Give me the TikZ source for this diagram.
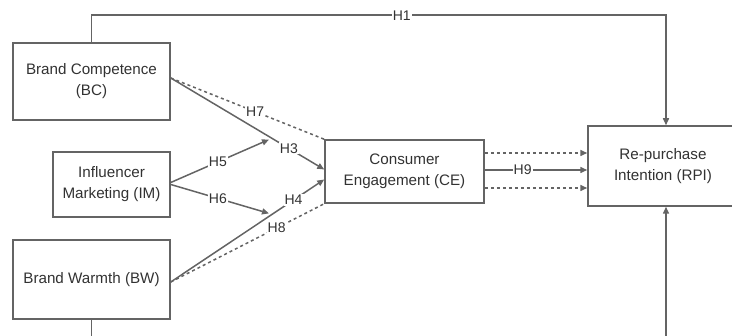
\documentclass[tikz,border=0pt]{standalone}
\usepackage{fontspec}
\setmainfont{Liberation Sans}
\usetikzlibrary{arrows.meta,calc,positioning}
\definecolor{linegray}{RGB}{100,100,100}
\definecolor{textgray}{RGB}{50,50,50}

\begin{document}
\begin{tikzpicture}[x=1pt,y=-1pt,>={Triangle[length=7pt,width=6pt]},
  box/.style={draw=linegray,line width=1.5pt,align=center,inner sep=0pt,
    text=textgray,font=\fontsize{15.2}{21}\selectfont},
  hyp/.style={draw=linegray,line width=1.5pt},
  med/.style={hyp,dash pattern=on 3pt off 3pt},
  lbl/.style={fill=white,inner sep=1pt,text=textgray,font=\fontsize{14}{15}\selectfont}]
\clip (0,0) rectangle (732,336);
% ---------------- constructs ----------------
\node[box,minimum width=157,minimum height=77] (bc) at (91.5,81.5) {Brand Competence\\(BC)};
\node[box,minimum width=117,minimum height=65] (im) at (111.5,184.5) {Influencer\\Marketing (IM)};
\node[box,minimum width=157,minimum height=79] (bw) at (91.5,279.5) {Brand Warmth (BW)};
\node[box,minimum width=159,minimum height=63] (ce) at (404.5,171.5) {Consumer\\Engagement (CE)};
\node[box,minimum width=150,minimum height=80] (rpi) at (663,166) {Re-purchase\\Intention (RPI)};
% ---------------- direct paths to RPI ----------------
\draw[hyp,->] (bc.north) -- ++(0,-27) -| ([xshift=3pt]rpi.north)
   node[pos=0.27,lbl]{H1};
\draw[hyp,->] (bw.south) -- ++(0,40) -| ([xshift=3pt]rpi.south);
% ---------------- paths to CE ----------------
\coordinate (bcout) at ([yshift=3.5pt]bc.east);
\coordinate (bwout) at ([yshift=-2.5pt]bw.east);
\coordinate (cein3) at ([yshift=2pt]ce.west);
\coordinate (cein4) at ([yshift=-8pt]ce.west);
\draw[hyp,->] (bcout) -- (cein3) node[pos=0.77,lbl]{H3};
\draw[hyp,->] (bwout) -- (cein4) node[pos=0.8,lbl]{H4};
\coordinate (m1) at ($(bcout)!0.64!(cein3)$);
\coordinate (m2) at ($(bwout)!0.64!(cein4)$);
% moderation
\draw[hyp,->] ([yshift=2pt]im.east) -- ([yshift=-3pt]m1) node[pos=0.48,lbl]{H5};
\draw[hyp,->] (im.east) -- ([yshift=3pt]m2) node[pos=0.48,lbl]{H6};
% mediation
\draw[med] (bcout) -- (ce.north west) node[pos=0.55,lbl]{H7};
\draw[med] (bwout) -- (ce.south west) node[pos=0.69,lbl]{H8};
% ---------------- CE to RPI ----------------
\draw[med,->] ([yshift=18.5pt]ce.east) -- ([yshift=18.5pt]ce.east -| rpi.west);
\draw[hyp,->] ([yshift=1.5pt]ce.east) -- ([yshift=1.5pt]ce.east -| rpi.west)
   node[pos=0.37,lbl]{H9};
\draw[med,->] ([yshift=-16.5pt]ce.east) -- ([yshift=-16.5pt]ce.east -| rpi.west);
\end{tikzpicture}
\end{document}
